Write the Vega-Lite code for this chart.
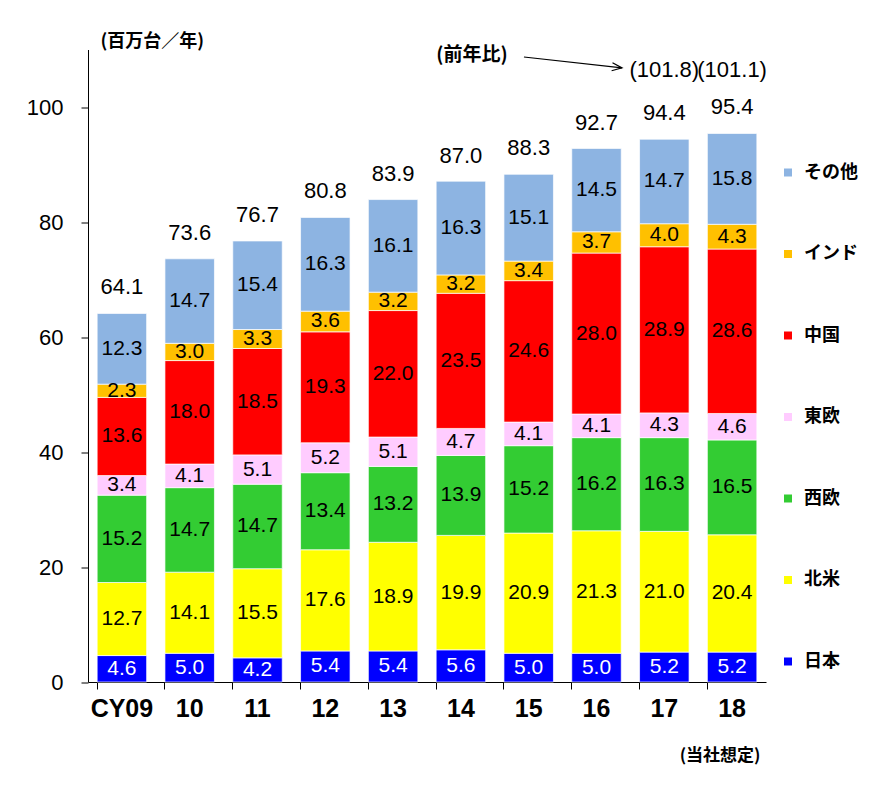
{
  "$schema": "https://vega.github.io/schema/vega-lite/v6.json",
  "autosize": "none",
  "width": 678,
  "height": 632.5,
  "padding": {"left": 88, "top": 49.5, "right": 103, "bottom": 104},
  "background": "white",
  "config": {"view": {"stroke": null}, "axis": {"grid": false}},
  "datasets": {
    "regions": [
      {"region": "日本", "rank": 1},
      {"region": "北米", "rank": 2},
      {"region": "西欧", "rank": 3},
      {"region": "東欧", "rank": 4},
      {"region": "中国", "rank": 5},
      {"region": "インド", "rank": 6},
      {"region": "その他", "rank": 7}
    ],
    "sales": [
      {"year": "CY09", "region": "日本", "value": 4.6},
      {"year": "CY09", "region": "北米", "value": 12.7},
      {"year": "CY09", "region": "西欧", "value": 15.2},
      {"year": "CY09", "region": "東欧", "value": 3.4},
      {"year": "CY09", "region": "中国", "value": 13.6},
      {"year": "CY09", "region": "インド", "value": 2.3},
      {"year": "CY09", "region": "その他", "value": 12.3},
      {"year": "10", "region": "日本", "value": 5.0},
      {"year": "10", "region": "北米", "value": 14.1},
      {"year": "10", "region": "西欧", "value": 14.7},
      {"year": "10", "region": "東欧", "value": 4.1},
      {"year": "10", "region": "中国", "value": 18.0},
      {"year": "10", "region": "インド", "value": 3.0},
      {"year": "10", "region": "その他", "value": 14.7},
      {"year": "11", "region": "日本", "value": 4.2},
      {"year": "11", "region": "北米", "value": 15.5},
      {"year": "11", "region": "西欧", "value": 14.7},
      {"year": "11", "region": "東欧", "value": 5.1},
      {"year": "11", "region": "中国", "value": 18.5},
      {"year": "11", "region": "インド", "value": 3.3},
      {"year": "11", "region": "その他", "value": 15.4},
      {"year": "12", "region": "日本", "value": 5.4},
      {"year": "12", "region": "北米", "value": 17.6},
      {"year": "12", "region": "西欧", "value": 13.4},
      {"year": "12", "region": "東欧", "value": 5.2},
      {"year": "12", "region": "中国", "value": 19.3},
      {"year": "12", "region": "インド", "value": 3.6},
      {"year": "12", "region": "その他", "value": 16.3},
      {"year": "13", "region": "日本", "value": 5.4},
      {"year": "13", "region": "北米", "value": 18.9},
      {"year": "13", "region": "西欧", "value": 13.2},
      {"year": "13", "region": "東欧", "value": 5.1},
      {"year": "13", "region": "中国", "value": 22.0},
      {"year": "13", "region": "インド", "value": 3.2},
      {"year": "13", "region": "その他", "value": 16.1},
      {"year": "14", "region": "日本", "value": 5.6},
      {"year": "14", "region": "北米", "value": 19.9},
      {"year": "14", "region": "西欧", "value": 13.9},
      {"year": "14", "region": "東欧", "value": 4.7},
      {"year": "14", "region": "中国", "value": 23.5},
      {"year": "14", "region": "インド", "value": 3.2},
      {"year": "14", "region": "その他", "value": 16.3},
      {"year": "15", "region": "日本", "value": 5.0},
      {"year": "15", "region": "北米", "value": 20.9},
      {"year": "15", "region": "西欧", "value": 15.2},
      {"year": "15", "region": "東欧", "value": 4.1},
      {"year": "15", "region": "中国", "value": 24.6},
      {"year": "15", "region": "インド", "value": 3.4},
      {"year": "15", "region": "その他", "value": 15.1},
      {"year": "16", "region": "日本", "value": 5.0},
      {"year": "16", "region": "北米", "value": 21.3},
      {"year": "16", "region": "西欧", "value": 16.2},
      {"year": "16", "region": "東欧", "value": 4.1},
      {"year": "16", "region": "中国", "value": 28.0},
      {"year": "16", "region": "インド", "value": 3.7},
      {"year": "16", "region": "その他", "value": 14.5},
      {"year": "17", "region": "日本", "value": 5.2},
      {"year": "17", "region": "北米", "value": 21.0},
      {"year": "17", "region": "西欧", "value": 16.3},
      {"year": "17", "region": "東欧", "value": 4.3},
      {"year": "17", "region": "中国", "value": 28.9},
      {"year": "17", "region": "インド", "value": 4.0},
      {"year": "17", "region": "その他", "value": 14.7},
      {"year": "18", "region": "日本", "value": 5.2},
      {"year": "18", "region": "北米", "value": 20.4},
      {"year": "18", "region": "西欧", "value": 16.5},
      {"year": "18", "region": "東欧", "value": 4.6},
      {"year": "18", "region": "中国", "value": 28.6},
      {"year": "18", "region": "インド", "value": 4.3},
      {"year": "18", "region": "その他", "value": 15.8}
    ],
    "totals": [
      {"year": "CY09", "total": 64.1},
      {"year": "10", "total": 73.6},
      {"year": "11", "total": 76.7},
      {"year": "12", "total": 80.8},
      {"year": "13", "total": 83.9},
      {"year": "14", "total": 87.0},
      {"year": "15", "total": 88.3},
      {"year": "16", "total": 92.7},
      {"year": "17", "total": 94.4},
      {"year": "18", "total": 95.4}
    ],
    "yoy": [
      {"year": "17", "label": "(101.8)"},
      {"year": "18", "label": "(101.1)"}
    ],
    "note": [
      {"year": "14", "label": "(前年比)"}
    ],
    "arrow": [
      {"x0": 6.43, "y0": 108.7, "x1": 7.876, "y1": 106.8}
    ]
  },
  "layer": [
    {
      "layer": [
        {
          "data": {"name": "sales"},
          "transform": [
            {"lookup": "region", "from": {"data": {"name": "regions"}, "key": "region", "fields": ["rank"]}}
          ],
          "layer": [
            {
              "mark": {"type": "bar", "stroke": "white", "strokeWidth": 0.7},
              "encoding": {
                "x": {
                  "field": "year", "type": "nominal", "sort": null,
                  "scale": {"paddingInner": 0.27, "paddingOuter": 0.135},
                  "axis": {
                    "bandPosition": 0, "tickSize": 7, "tickColor": "black", "domainColor": "black",
                    "labelAngle": 0, "labelFont": "Liberation Sans", "labelFontWeight": "bold",
                    "labelFontSize": 25, "labelColor": "black", "labelPadding": 7,
                    "title": "(当社想定)", "titleAngle": 0, "titleAlign": "right", "titleBaseline": "middle",
                    "titleX": 672, "titleY": 73, "titleFont": "Noto Sans CJK JP", "titleFontSize": 17,
                    "titleFontWeight": "bold", "titleColor": "black"
                  }
                },
                "y": {
                  "field": "value", "type": "quantitative", "stack": "zero",
                  "scale": {"domain": [0, 110], "nice": false},
                  "axis": {
                    "values": [0, 20, 40, 60, 80, 100], "tickSize": 7, "tickColor": "black",
                    "domainColor": "black", "labelFont": "Liberation Sans", "labelFontSize": 22,
                    "labelColor": "black", "labelPadding": 18,
                    "title": "(百万台／年)", "titleAngle": 0, "titleAlign": "left", "titleBaseline": "middle",
                    "titleX": 12, "titleY": -8, "titleFont": "Noto Sans CJK JP", "titleFontSize": 18,
                    "titleFontWeight": "bold", "titleColor": "black"
                  }
                },
                "color": {
                  "field": "region", "type": "nominal",
                  "scale": {
                    "domain": ["その他", "インド", "中国", "東欧", "西欧", "北米", "日本"],
                    "range": ["#8DB4E2", "#FFC000", "#FF0000", "#FFCCFF", "#33CC33", "#FFFF00", "#0000FF"]
                  },
                  "legend": {
                    "orient": "none", "legendX": 691, "legendY": 114, "title": null,
                    "symbolType": "square", "symbolSize": 64, "symbolStrokeWidth": 0,
                    "labelFont": "Noto Sans CJK JP", "labelFontSize": 18, "labelFontWeight": "bold",
                    "labelColor": "black", "labelOffset": 7, "rowPadding": 63.5
                  }
                },
                "order": {"field": "rank", "type": "quantitative"}
              }
            },
            {
              "mark": {"type": "text", "font": "Liberation Sans", "fontSize": 21},
              "encoding": {
                "x": {"field": "year", "type": "nominal", "sort": null},
                "y": {"field": "value", "type": "quantitative", "stack": "zero", "bandPosition": 0.5},
                "detail": {"field": "region", "type": "nominal"},
                "order": {"field": "rank", "type": "quantitative"},
                "text": {"field": "value", "type": "quantitative", "format": ".1f"},
                "color": {"condition": {"test": "datum.region === '日本'", "value": "white"}, "value": "black"}
              }
            }
          ]
        },
        {
          "data": {"name": "totals"},
          "mark": {"type": "text", "font": "Liberation Sans", "fontSize": 22, "dy": -26, "color": "black"},
          "encoding": {
            "x": {"field": "year", "type": "nominal", "sort": null},
            "y": {"field": "total", "type": "quantitative"},
            "text": {"field": "total", "type": "quantitative", "format": ".1f"}
          }
        },
        {
          "data": {"name": "yoy"},
          "mark": {"type": "text", "font": "Liberation Sans", "fontSize": 22, "color": "black"},
          "encoding": {
            "x": {"field": "year", "type": "nominal", "sort": null},
            "y": {"datum": 106.4, "type": "quantitative"},
            "text": {"field": "label", "type": "nominal"}
          }
        },
        {
          "data": {"name": "note"},
          "mark": {"type": "text", "font": "Noto Sans CJK JP", "fontSize": 19, "fontWeight": "bold", "dx": 11, "color": "black"},
          "encoding": {
            "x": {"field": "year", "type": "nominal", "sort": null},
            "y": {"datum": 109, "type": "quantitative"},
            "text": {"field": "label", "type": "nominal"}
          }
        }
      ]
    },
    {
      "data": {"name": "arrow"},
      "layer": [
        {
          "mark": {"type": "rule", "color": "black", "strokeWidth": 1.2},
          "encoding": {
            "x": {"field": "x0", "type": "quantitative", "scale": {"domain": [0, 10], "nice": false, "zero": false}, "axis": null},
            "x2": {"field": "x1"},
            "y": {"field": "y0", "type": "quantitative"},
            "y2": {"field": "y1"}
          }
        },
        {
          "mark": {"type": "point", "shape": "M-2,-0.8L0,0L-2,0.8", "filled": false, "stroke": "black", "strokeWidth": 1.2, "size": 100, "angle": 6.4, "opacity": 1},
          "encoding": {
            "x": {"field": "x1", "type": "quantitative"},
            "y": {"field": "y1", "type": "quantitative"}
          }
        }
      ]
    }
  ],
  "resolve": {"scale": {"x": "independent"}}
}
